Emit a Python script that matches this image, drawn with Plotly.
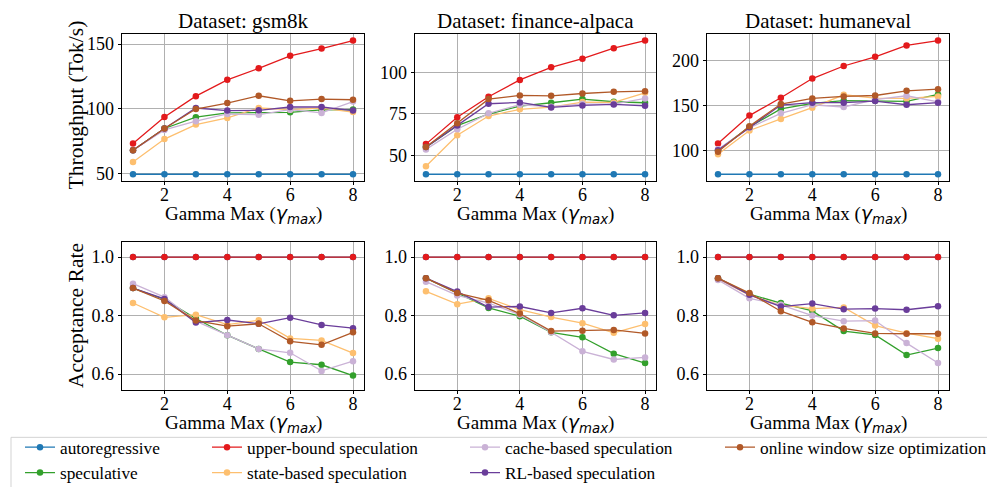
import plotly.graph_objects as go

GAMMA = [1, 2, 3, 4, 5, 6, 7, 8]
METHODS = ["autoregressive", "speculative", "upper-bound speculation", "state-based speculation",
           "cache-based speculation", "RL-based speculation", "online window size optimization"]
COLORS = ["#1f78b4", "#33a02c", "#e31a1c", "#fdbf6f", "#cab2d6", "#6a3d9a", "#b15928"]
DATASETS = ["gsm8k", "finance-alpaca", "humaneval"]

# Throughput (Tok/s)
tp_gsm8k = {
    "autoregressive": [49.3] * 8,
    "speculative": [67.8, 84.7, 93.4, 96.7, 96.9, 97.2, 99.0, 99.3],
    "upper-bound speculation": [73.1, 93.6, 109.7, 122.3, 131.2, 140.9, 146.5, 152.7],
    "state-based speculation": [58.8, 76.5, 87.7, 92.8, 100.5, 99.2, 100.5, 97.4],
    "cache-based speculation": [67.8, 83.6, 90.3, 95.9, 95.4, 99.2, 96.7, 105.5],
    "RL-based speculation": [67.8, 84.7, 100.5, 98.5, 98.7, 101.3, 101.3, 98.5],
    "online window size optimization": [67.8, 84.7, 99.7, 104.3, 110.0, 106.1, 107.4, 106.9],
}
tp_finance = {
    "autoregressive": [38.6] * 8,
    "speculative": [55.0, 68.0, 75.0, 79.8, 81.8, 84.0, 82.4, 81.8],
    "upper-bound speculation": [56.8, 73.0, 85.4, 95.6, 103.2, 108.4, 114.8, 119.4],
    "state-based speculation": [43.4, 62.2, 73.8, 77.8, 79.2, 82.2, 82.0, 87.8],
    "cache-based speculation": [53.6, 65.8, 75.4, 80.6, 79.4, 81.0, 81.0, 84.4],
    "RL-based speculation": [55.0, 68.0, 81.2, 82.0, 79.0, 80.2, 80.8, 80.0],
    "online window size optimization": [55.0, 69.4, 84.0, 86.2, 86.0, 87.4, 88.4, 88.8],
}
tp_humaneval = {
    "autoregressive": [73.2] * 8,
    "speculative": [100.0, 126.0, 146.0, 152.2, 155.2, 155.2, 154.4, 162.2],
    "upper-bound speculation": [107.6, 138.6, 158.5, 179.9, 193.9, 204.2, 216.8, 222.3],
    "state-based speculation": [95.4, 122.0, 134.9, 147.4, 161.8, 158.1, 157.7, 160.0],
    "cache-based speculation": [101.0, 125.0, 141.1, 150.7, 148.2, 156.3, 160.7, 154.0],
    "RL-based speculation": [100.0, 125.6, 150.4, 153.0, 153.0, 154.8, 150.7, 153.0],
    "online window size optimization": [98.3, 126.8, 151.5, 157.7, 160.0, 161.0, 166.2, 168.0],
}

# Acceptance rate
ar_gsm8k = {
    "autoregressive": [1.0] * 8,
    "speculative": [0.894, 0.855, 0.790, 0.733, 0.686, 0.641, 0.632, 0.595],
    "upper-bound speculation": [1.0] * 8,
    "state-based speculation": [0.843, 0.794, 0.803, 0.769, 0.784, 0.722, 0.715, 0.672],
    "cache-based speculation": [0.909, 0.863, 0.781, 0.733, 0.686, 0.673, 0.611, 0.644],
    "RL-based speculation": [0.894, 0.857, 0.776, 0.785, 0.772, 0.793, 0.768, 0.757],
    "online window size optimization": [0.894, 0.850, 0.783, 0.764, 0.772, 0.712, 0.700, 0.743],
}
ar_finance = {
    "autoregressive": [1.0] * 8,
    "speculative": [0.928, 0.877, 0.826, 0.798, 0.743, 0.726, 0.670, 0.638],
    "upper-bound speculation": [1.0] * 8,
    "state-based speculation": [0.883, 0.839, 0.859, 0.820, 0.795, 0.774, 0.741, 0.771],
    "cache-based speculation": [0.916, 0.869, 0.843, 0.803, 0.743, 0.678, 0.650, 0.657],
    "RL-based speculation": [0.928, 0.882, 0.829, 0.831, 0.809, 0.825, 0.801, 0.809],
    "online window size optimization": [0.928, 0.877, 0.852, 0.807, 0.747, 0.748, 0.751, 0.739],
}
ar_humaneval = {
    "autoregressive": [1.0] * 8,
    "speculative": [0.928, 0.873, 0.843, 0.816, 0.747, 0.734, 0.665, 0.689],
    "upper-bound speculation": [1.0] * 8,
    "state-based speculation": [0.925, 0.870, 0.836, 0.824, 0.828, 0.766, 0.740, 0.721],
    "cache-based speculation": [0.922, 0.859, 0.837, 0.800, 0.781, 0.783, 0.706, 0.638],
    "RL-based speculation": [0.928, 0.871, 0.831, 0.841, 0.822, 0.824, 0.820, 0.832],
    "online window size optimization": [0.928, 0.877, 0.815, 0.777, 0.756, 0.739, 0.738, 0.738],
}

TP_TICKS = [[50, 100, 150], [50, 75, 100], [100, 150, 200]]
AR_TICKS = [0.6, 0.8, 1.0]

W, H = 995, 487
FONT = "Liberation Serif, Times New Roman, serif"
XDOM = [(114, 356), (407, 648), (699, 941)]
YDOM = [(26, 174), (235, 384)]

fig = go.Figure()
panels = [[tp_gsm8k, tp_finance, tp_humaneval], [ar_gsm8k, ar_finance, ar_humaneval]]
# legend placement: column-major as in matplotlib (ncol=4)
legend_of = {
    "autoregressive": "legend", "speculative": "legend",
    "upper-bound speculation": "legend2", "state-based speculation": "legend2",
    "cache-based speculation": "legend3", "RL-based speculation": "legend3",
    "online window size optimization": "legend4",
}

idx = 0
for r in range(2):
    for c in range(3):
        idx += 1
        xa = "x" if idx == 1 else f"x{idx}"
        ya = "y" if idx == 1 else f"y{idx}"
        data = panels[r][c]
        for m, col in zip(METHODS, COLORS):
            fig.add_trace(go.Scatter(
                x=GAMMA, y=data[m], xaxis=xa, yaxis=ya, name=m, mode="lines+markers",
                line=dict(color=col, width=1.3), marker=dict(color=col, size=6.5),
                showlegend=(idx == 1), legend=legend_of[m],
            ))
        x0, x1 = XDOM[c]
        y0, y1 = YDOM[r]
        axis_common = dict(showline=True, linecolor="black", linewidth=1, mirror=True,
                           ticks="outside", ticklen=3.5, tickcolor="black", tickwidth=0.8,
                           showgrid=True, gridcolor="#b0b0b0", gridwidth=0.8, zeroline=False,
                           tickfont=dict(family=FONT, size=18, color="black"))
        fig.layout[("xaxis" if idx == 1 else f"xaxis{idx}")] = dict(
            domain=[x0 / W, x1 / W], anchor=ya, range=[0.65, 8.35],
            tickvals=[2, 4, 6, 8], ticklabelstandoff=-6, **axis_common)
        if r == 0:
            vals = [v for m in METHODS for v in data[m]]
            lo, hi = min(vals), max(vals)
            pad = (hi - lo) * 0.05
            yr = [lo - pad, hi + pad]
            yt = dict(tickvals=TP_TICKS[c])
        else:
            yr = [0.547, 1.053]
            yt = dict(tickvals=AR_TICKS, tickformat=".1f")
        fig.layout[("yaxis" if idx == 1 else f"yaxis{idx}")] = dict(
            domain=[1 - y1 / H, 1 - y0 / H], anchor=xa, range=yr, **yt, **axis_common)
        # x axis title
        fig.add_annotation(
            text='Gamma Max (<span style="font-family:DejaVu Sans"><i>γ</i><sub><i>max</i></sub></span>)',
            xref="paper", yref="paper", x=(x0 + x1) / 2 / W, y=1 - (y1 + 34) / H,
            showarrow=False, font=dict(family=FONT, size=19, color="black"),
            xanchor="center", yanchor="middle")
        if r == 0:
            fig.add_annotation(
                text=f"Dataset: {DATASETS[c]}", xref="paper", yref="paper",
                x=(x0 + x1) / 2 / W, y=1 - 13 / H, showarrow=False,
                font=dict(family=FONT, size=21, color="black"),
                xanchor="center", yanchor="middle")

fig.add_annotation(text="Throughput (Tok/s)", xref="paper", yref="paper",
                   x=68 / W, y=1 - 98 / H, textangle=-90, showarrow=False,
                   xanchor="center", yanchor="middle",
                   font=dict(family=FONT, size=21.5, color="black"))
fig.add_annotation(text="Acceptance Rate", xref="paper", yref="paper",
                   x=68 / W, y=1 - 310 / H, textangle=-90, showarrow=False,
                   xanchor="center", yanchor="middle",
                   font=dict(family=FONT, size=21.5, color="black"))

leg_common = dict(orientation="v", yanchor="top", xanchor="left", bgcolor="rgba(0,0,0,0)",
                  font=dict(family=FONT, size=17.3, color="black"), tracegroupgap=0,
                  itemwidth=30)
ly = 1 - 424 / H
fig.update_layout(
    legend=dict(x=12 / W, y=ly, **leg_common),
    legend2=dict(x=199 / W, y=ly, **leg_common),
    legend3=dict(x=457 / W, y=ly, **leg_common),
    legend4=dict(x=712 / W, y=ly, **leg_common),
)
fig.add_shape(type="rect", xref="paper", yref="paper", x0=3 / W, x1=992 / W,
              y0=1 - 485 / H, y1=1 - 432 / H, line=dict(color="#d3d3d3", width=1))

fig.update_layout(width=W, height=H, margin=dict(l=0, r=0, t=0, b=0),
                  paper_bgcolor="white", plot_bgcolor="white",
                  font=dict(family=FONT, color="black"))
fig.write_html("out.html")
